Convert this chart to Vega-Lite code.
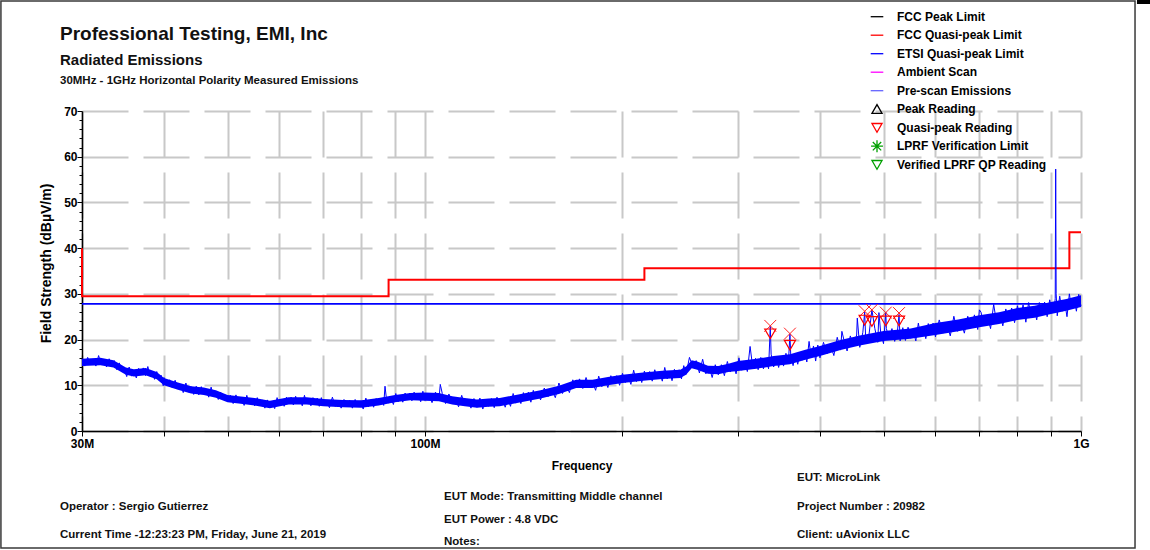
{
 "$schema": "https://vega.github.io/schema/vega-lite/v6.json",
 "width": 999,
 "height": 320,
 "autosize": {"type": "none"},
 "padding": {"left": 82, "top": 111, "right": 69, "bottom": 119},
 "background": "white",
 "config": {"view": {"stroke": null}, "font": "Liberation Sans"},
 "resolve": {"axis": {"y": "independent"}},
 "datasets": {
  "etsi": [{"f": 30, "v": 27.8}, {"f": 1000, "v": 27.8}],
  "fccqp": [
   {"i": 0, "f": 30, "v": 40}, {"i": 1, "f": 30, "v": 29.5}, {"i": 2, "f": 88, "v": 29.5}, {"i": 3, "f": 88, "v": 33.1},
   {"i": 4, "f": 216, "v": 33.1}, {"i": 5, "f": 216, "v": 35.6}, {"i": 6, "f": 960, "v": 35.6}, {"i": 7, "f": 960, "v": 43.5},
   {"i": 8, "f": 1000, "v": 43.5}
  ],
  "qp": [
   {"series": "Quasi-peak Reading", "f": 336, "v": 21.3}, {"series": "Quasi-peak Reading", "f": 360, "v": 18.8},
   {"series": "Quasi-peak Reading", "f": 468, "v": 24.3}, {"series": "Quasi-peak Reading", "f": 480, "v": 24.0},
   {"series": "Quasi-peak Reading", "f": 504, "v": 24.1}, {"series": "Quasi-peak Reading", "f": 528, "v": 24.1}
  ],
  "pk": [
   {"f": 336, "v": 23.0}, {"f": 360, "v": 21.3}, {"f": 468, "v": 26.2}, {"f": 480, "v": 26.5}, {"f": 504, "v": 25.9}, {"f": 528, "v": 25.8}
  ],
  "band": [
   {"f":30,"lo":14.2,"hi":15.8},{"f":32,"lo":14.4,"hi":16.0},{"f":33.5,"lo":13.9,"hi":15.5},{"f":35,"lo":12.3,"hi":13.9},{"f":36,"lo":11.9,"hi":13.5},
   {"f":37.5,"lo":12.2,"hi":13.8},{"f":39,"lo":11.3,"hi":12.9},{"f":40,"lo":10.0,"hi":11.6},{"f":42,"lo":9.0,"hi":10.6},{"f":44,"lo":8.2,"hi":9.8},
   {"f":46,"lo":7.9,"hi":9.5},{"f":48,"lo":7.3,"hi":8.9},{"f":50,"lo":6.3,"hi":7.9},{"f":52,"lo":6.0,"hi":7.6},{"f":55,"lo":5.6,"hi":7.2},
   {"f":58,"lo":5.0,"hi":6.6},{"f":62,"lo":5.8,"hi":7.4},{"f":66,"lo":5.8,"hi":7.4},{"f":70,"lo":5.4,"hi":7.0},{"f":75,"lo":5.2,"hi":6.8},
   {"f":80,"lo":5.1,"hi":6.7},{"f":85,"lo":5.6,"hi":7.2},{"f":90,"lo":6.3,"hi":7.9},{"f":95,"lo":6.7,"hi":8.3},{"f":100,"lo":6.6,"hi":8.4},
   {"f":105,"lo":6.5,"hi":8.3},{"f":110,"lo":5.8,"hi":7.6},{"f":115,"lo":5.4,"hi":7.2},{"f":120,"lo":5.1,"hi":6.9},{"f":125,"lo":5.3,"hi":7.1},
   {"f":130,"lo":5.4,"hi":7.2},{"f":140,"lo":6.3,"hi":8.1},{"f":150,"lo":7.1,"hi":8.9},{"f":160,"lo":8.1,"hi":9.9},{"f":170,"lo":9.4,"hi":11.2},
   {"f":180,"lo":9.4,"hi":11.2},{"f":190,"lo":10.0,"hi":11.8},{"f":200,"lo":10.5,"hi":12.3},{"f":215,"lo":11.0,"hi":12.8},{"f":230,"lo":11.4,"hi":13.2},
   {"f":245,"lo":11.6,"hi":13.4},{"f":250,"lo":12.3,"hi":14.1},{"f":255,"lo":13.7,"hi":15.5},{"f":260,"lo":13.4,"hi":15.2},{"f":270,"lo":12.5,"hi":14.3},
   {"f":280,"lo":12.4,"hi":14.2},{"f":290,"lo":12.9,"hi":14.7},{"f":300,"lo":13.1,"hi":15.3},{"f":320,"lo":13.6,"hi":15.8},{"f":340,"lo":14.2,"hi":16.4},
   {"f":360,"lo":14.6,"hi":16.8},{"f":380,"lo":15.6,"hi":17.8},{"f":400,"lo":16.4,"hi":18.6},{"f":430,"lo":17.7,"hi":19.9},{"f":460,"lo":18.7,"hi":20.9},
   {"f":500,"lo":19.7,"hi":21.9},{"f":550,"lo":20.2,"hi":22.4},{"f":600,"lo":21.0,"hi":23.6},{"f":650,"lo":21.8,"hi":24.4},{"f":700,"lo":22.7,"hi":25.3},
   {"f":750,"lo":23.4,"hi":26.0},{"f":800,"lo":24.3,"hi":26.9},{"f":850,"lo":24.8,"hi":27.4},{"f":900,"lo":25.6,"hi":28.2},{"f":950,"lo":26.3,"hi":28.9},
   {"f":1000,"lo":27.1,"hi":29.7}
  ],
  "trace": [
   {"f":30.0,"v":15.8},{"f":30.3,"v":14.2},{"f":30.6,"v":16.1},{"f":30.9,"v":14.6},{"f":31.2,"v":15.6},{"f":31.5,"v":14.2},{"f":31.8,"v":16.5},{"f":32.1,"v":14.5},{"f":32.4,"v":15.7},{"f":32.7,"v":14.0},
   {"f":33.0,"v":15.8},{"f":33.3,"v":14.3},{"f":33.6,"v":15.4},{"f":33.9,"v":13.4},{"f":34.2,"v":14.9},{"f":34.5,"v":12.9},{"f":34.8,"v":13.6},{"f":35.1,"v":11.9},{"f":35.4,"v":14.0},{"f":35.7,"v":12.0},
   {"f":36.0,"v":13.2},{"f":36.3,"v":11.6},{"f":36.6,"v":13.7},{"f":36.9,"v":12.4},{"f":37.2,"v":13.8},{"f":37.5,"v":12.1},{"f":37.8,"v":14.1},{"f":38.1,"v":12.0},{"f":38.4,"v":13.1},{"f":38.7,"v":11.3},
   {"f":39.0,"v":13.0},{"f":39.3,"v":11.3},{"f":39.6,"v":12.2},{"f":39.9,"v":9.9},
   {"f":40.0,"v":11.7},{"f":40.4,"v":10.1},{"f":40.8,"v":11.2},{"f":41.2,"v":9.4},{"f":41.6,"v":11.1},{"f":42.0,"v":9.3},{"f":42.4,"v":10.1},{"f":42.8,"v":8.4},{"f":43.2,"v":10.5},{"f":43.6,"v":8.5},
   {"f":44.0,"v":9.7},{"f":44.4,"v":8.0},{"f":44.8,"v":9.8},{"f":45.2,"v":7.9},{"f":45.6,"v":9.7},{"f":46.0,"v":8.1},{"f":46.4,"v":9.0},{"f":46.8,"v":7.4},{"f":47.2,"v":9.6},{"f":47.6,"v":7.6},
   {"f":48.0,"v":8.7},{"f":48.4,"v":6.9},{"f":48.8,"v":8.5},{"f":49.2,"v":6.8},{"f":49.6,"v":7.9},
   {"f":50.0,"v":6.5},{"f":50.5,"v":7.8},{"f":51.0,"v":6.0},{"f":51.5,"v":7.9},{"f":52.0,"v":6.2},{"f":52.5,"v":7.2},{"f":53.0,"v":5.6},{"f":53.5,"v":7.8},{"f":54.0,"v":5.9},{"f":54.5,"v":7.1},
   {"f":55.0,"v":5.5},{"f":55.5,"v":7.3},{"f":56.0,"v":5.7},{"f":56.5,"v":6.8},{"f":57.0,"v":5.0},{"f":57.5,"v":6.8},{"f":58.0,"v":5.2},{"f":58.5,"v":6.3},{"f":59.0,"v":4.9},{"f":59.5,"v":7.3},
   {"f":60.0,"v":5.5},{"f":60.5,"v":6.9},{"f":61.0,"v":5.4},{"f":61.5,"v":7.4},{"f":62.0,"v":6.1},{"f":62.5,"v":7.4},{"f":63.0,"v":5.7},{"f":63.5,"v":7.6},{"f":64.0,"v":6.0},{"f":64.5,"v":7.0},
   {"f":65.0,"v":5.5},{"f":65.5,"v":7.8},{"f":66.0,"v":5.9},{"f":66.5,"v":7.1},{"f":67.0,"v":5.5},{"f":67.5,"v":7.3},{"f":68.0,"v":5.9},{"f":68.5,"v":7.2},{"f":69.0,"v":5.4},{"f":69.5,"v":7.3},
   {"f":70.0,"v":5.7},{"f":70.75,"v":6.7},{"f":71.5,"v":5.1},{"f":72.25,"v":7.4},{"f":73.0,"v":5.4},{"f":73.75,"v":6.7},{"f":74.5,"v":5.0},{"f":75.25,"v":6.9},{"f":76.0,"v":5.5},{"f":76.75,"v":6.7},
   {"f":77.5,"v":5.0},{"f":78.25,"v":6.9},{"f":79.0,"v":5.3},{"f":79.75,"v":6.3},{"f":80.5,"v":4.8},{"f":81.25,"v":7.2},{"f":82.0,"v":5.3},{"f":82.75,"v":6.7},{"f":83.5,"v":5.2},{"f":84.25,"v":7.1},
   {"f":85.0,"v":5.8},{"f":85.75,"v":7.2},{"f":86.5,"v":5.6},{"f":86.9,"v":9.8},{"f":87.25,"v":7.6},{"f":88.0,"v":6.1},{"f":88.75,"v":7.2},{"f":89.5,"v":5.8},{"f":90.25,"v":8.2},{"f":91.0,"v":6.4},
   {"f":91.75,"v":7.8},{"f":92.5,"v":6.3},{"f":93.25,"v":8.3},{"f":94.0,"v":6.9},{"f":94.75,"v":8.3},{"f":95.5,"v":6.6},{"f":96.25,"v":8.5},{"f":97.0,"v":6.9},{"f":97.75,"v":7.9},{"f":98.5,"v":6.4},
   {"f":99.25,"v":8.7},
   {"f":100.0,"v":6.7},{"f":101.25,"v":8.2},{"f":102.5,"v":6.2},{"f":103.75,"v":8.5},{"f":105.0,"v":6.7},{"f":105.5,"v":10.2},{"f":106.25,"v":8.2},{"f":107.5,"v":6.0},{"f":108.75,"v":8.1},{"f":110.0,"v":6.1},
   {"f":111.25,"v":7.2},{"f":112.5,"v":5.3},{"f":113.75,"v":7.8},{"f":115.0,"v":5.5},{"f":116.25,"v":6.9},{"f":117.5,"v":5.0},{"f":118.75,"v":7.1},{"f":120.0,"v":5.2},{"f":121.25,"v":7.2},{"f":122.5,"v":4.8},
   {"f":123.75,"v":7.0},{"f":125.0,"v":5.4},{"f":126.25,"v":7.1},{"f":127.5,"v":5.1},{"f":128.75,"v":7.4},{"f":130.0,"v":5.5},{"f":131.25,"v":7.1},{"f":132.5,"v":5.2},{"f":133.75,"v":7.1},{"f":135.0,"v":5.4},
   {"f":136.25,"v":8.2},{"f":137.5,"v":6.1},{"f":138.75,"v":7.8},{"f":140.0,"v":6.0},{"f":141.25,"v":8.4},{"f":142.5,"v":6.8},{"f":143.75,"v":8.5},{"f":145.0,"v":6.3},{"f":146.25,"v":8.9},{"f":147.5,"v":7.0},
   {"f":148.75,"v":8.6},
   {"f":150,"v":6.8},{"f":152,"v":9.4},{"f":154,"v":7.5},{"f":156,"v":9.0},{"f":158,"v":7.3},{"f":160,"v":10.5},{"f":162,"v":8.2},{"f":164,"v":10.2},{"f":166,"v":8.4},{"f":168,"v":11.2},
   {"f":170,"v":9.5},{"f":172,"v":11.4},{"f":174,"v":9.3},{"f":176,"v":11.7},{"f":178,"v":9.5},{"f":180,"v":10.8},{"f":182,"v":8.9},{"f":184,"v":12.0},{"f":186,"v":9.7},{"f":188,"v":11.5},
   {"f":190,"v":9.5},{"f":192,"v":12.1},{"f":194,"v":10.3},{"f":196,"v":12.1},{"f":198,"v":10.0},{"f":200,"v":12.6},{"f":202,"v":10.6},{"f":204,"v":12.0},{"f":206,"v":10.2},{"f":208,"v":13.3},
   {"f":210,"v":10.8},{"f":212,"v":12.6},{"f":214,"v":10.6},{"f":216,"v":13.1},{"f":218,"v":11.3},{"f":220,"v":13.0},{"f":222,"v":10.9},{"f":224,"v":13.4},{"f":226,"v":11.4},{"f":228,"v":12.7},
   {"f":230,"v":10.9},{"f":232,"v":13.9},{"f":234,"v":11.4},{"f":236,"v":13.1},{"f":238,"v":11.0},{"f":240,"v":13.5},{"f":242,"v":11.6},{"f":244,"v":13.4},{"f":246,"v":11.4},{"f":248,"v":14.3},
   {"f":250,"v":12.4},{"f":253,"v":16.1},{"f":256,"v":14.1},{"f":259,"v":15.4},{"f":262,"v":12.7},{"f":265,"v":15.7},{"f":268,"v":12.5},{"f":271,"v":14.2},{"f":274,"v":11.7},{"f":277,"v":14.5},
   {"f":280,"v":12.3},{"f":283,"v":14.5},{"f":286,"v":12.1},{"f":289,"v":15.2},{"f":292,"v":12.9},{"f":295,"v":14.6},{"f":298,"v":12.5},{"f":301,"v":16.0},{"f":304,"v":13.3},{"f":307,"v":15.3},
   {"f":310,"v":13.0},{"f":313,"v":18.5},{"f":316,"v":13.8},{"f":319,"v":15.9},{"f":322,"v":13.4},{"f":325,"v":16.1},{"f":328,"v":13.6},{"f":331,"v":15.7},{"f":334,"v":13.6},{"f":336,"v":22.9},
   {"f":337,"v":16.8},{"f":340,"v":14.0},{"f":343,"v":16.3},{"f":346,"v":13.9},{"f":349,"v":16.4},{"f":352,"v":14.2},{"f":355,"v":17.0},{"f":358,"v":14.7},{"f":360,"v":21.2},{"f":361,"v":16.6},
   {"f":364,"v":14.3},{"f":367,"v":17.0},{"f":370,"v":14.6},{"f":373,"v":17.1},{"f":376,"v":15.5},{"f":379,"v":17.2},{"f":382,"v":15.1},{"f":385,"v":19.6},{"f":388,"v":16.0},{"f":391,"v":18.6},
   {"f":394,"v":15.3},{"f":397,"v":18.8},
   {"f":400,"v":16.0},{"f":405,"v":19.4},{"f":410,"v":16.9},{"f":415,"v":18.8},{"f":420,"v":16.5},{"f":425,"v":20.5},{"f":430,"v":17.7},{"f":432,"v":21.8},{"f":435,"v":20.0},{"f":440,"v":17.5},
   {"f":445,"v":20.8},{"f":450,"v":18.6},{"f":455,"v":21.0},{"f":456,"v":24.7},{"f":460,"v":18.3},{"f":465,"v":21.6},{"f":468,"v":26.0},{"f":470,"v":19.1},{"f":475,"v":20.9},{"f":480,"v":26.5},
   {"f":485,"v":22.4},{"f":490,"v":19.4},{"f":492,"v":25.9},{"f":495,"v":21.6},{"f":500,"v":19.1},{"f":504,"v":26.0},{"f":505,"v":22.4},{"f":510,"v":20.1},{"f":515,"v":22.4},{"f":520,"v":19.6},
   {"f":525,"v":21.8},{"f":528,"v":25.5},{"f":530,"v":19.7},{"f":535,"v":22.6},{"f":540,"v":19.8},{"f":545,"v":22.7},{"f":550,"v":20.3},{"f":555,"v":21.9},{"f":560,"v":19.7},{"f":565,"v":23.6},
   {"f":570,"v":20.6},{"f":575,"v":22.8},{"f":580,"v":20.2},{"f":585,"v":23.5},{"f":590,"v":21.2},{"f":595,"v":23.6},
   {"f":600,"v":20.6},{"f":608,"v":24.3},{"f":616,"v":21.4},{"f":624,"v":23.5},{"f":632,"v":20.8},{"f":640,"v":25.1},{"f":648,"v":21.8},{"f":656,"v":24.2},{"f":664,"v":21.4},{"f":672,"v":25.1},
   {"f":680,"v":22.6},{"f":688,"v":25.4},{"f":696,"v":22.2},{"f":700,"v":26.5},{"f":704,"v":26.0},{"f":712,"v":23.1},{"f":720,"v":25.1},{"f":728,"v":22.4},{"f":736,"v":27.7},{"f":744,"v":23.4},
   {"f":752,"v":25.8},{"f":760,"v":23.0},{"f":768,"v":26.7},{"f":776,"v":24.1},{"f":784,"v":26.9},{"f":792,"v":23.7},{"f":800,"v":27.4},{"f":808,"v":24.5},{"f":816,"v":27.6},{"f":824,"v":23.8},
   {"f":832,"v":28.1},{"f":840,"v":24.8},{"f":848,"v":27.2},{"f":856,"v":24.3},{"f":864,"v":28.1},{"f":872,"v":25.5},{"f":880,"v":28.2},{"f":888,"v":25.0},{"f":896,"v":28.7},{"f":904,"v":25.9},
   {"f":912,"v":27.9},{"f":913.5,"v":29.0},{"f":915,"v":57.3},{"f":916.5,"v":30.0},{"f":920,"v":25.2},{"f":928,"v":29.5},{"f":936,"v":26.2},{"f":944,"v":28.3},{"f":952,"v":25.0},{"f":960,"v":30.0},
   {"f":968,"v":26.7},{"f":976,"v":29.1},{"f":984,"v":26.2},{"f":992,"v":29.9},{"f":1000,"v":27.3}
  ]
 },
 "layer": [
  {
   "data": {"values": [{}]},
   "mark": {"type": "rect", "filled": false, "stroke": "#3a3a3a", "strokeWidth": 1.5, "clip": false},
   "encoding": {
    "x": {"datum": 22.57, "type": "quantitative", "scale": {"type": "log", "domain": [30, 1000], "nice": false}},
    "x2": {"datum": 1208.8},
    "y": {"datum": 94.06, "type": "quantitative", "scale": {"domain": [0, 70], "nice": false, "zero": false}, "axis": null},
    "y2": {"datum": -25.6}
   }
  },
  {
   "data": {"values": [{}]},
   "mark": {"type": "rect", "fill": "black", "clip": false},
   "encoding": {
    "x": {"datum": 1217, "type": "quantitative", "scale": {"type": "log", "domain": [30, 1000], "nice": false}},
    "x2": {"datum": 1274},
    "y": {"datum": 94.3, "type": "quantitative", "scale": {"domain": [0, 70], "nice": false, "zero": false}, "axis": null},
    "y2": {"datum": 93.4}
   }
  },
  {
   "data": {"name": "etsi"},
   "mark": {"type": "line", "color": "#0000ff", "strokeWidth": 1.6},
   "encoding": {
    "x": {"field": "f", "type": "quantitative", "scale": {"type": "log", "domain": [30, 1000], "nice": false}},
    "y": {
     "field": "v", "type": "quantitative", "scale": {"domain": [0, 70], "nice": false, "zero": false},
     "axis": {"orient": "left", "values": [2, 4, 6, 8, 12, 14, 16, 18, 22, 24, 26, 28, 32, 34, 36, 38, 42, 44, 46, 48, 52, 54, 56, 58, 62, 64, 66, 68], "labels": false, "grid": false, "domain": false, "title": null, "tickSize": 3, "tickColor": "#000000", "tickWidth": 1}
    }
   }
  },
  {
   "data": {"name": "fccqp"},
   "mark": {"type": "line", "color": "#ff0000", "strokeWidth": 2},
   "encoding": {
    "x": {"field": "f", "type": "quantitative", "scale": {"type": "log", "domain": [30, 1000], "nice": false}},
    "y": {"field": "v", "type": "quantitative", "scale": {"domain": [0, 70], "nice": false, "zero": false}, "axis": null},
    "order": {"field": "i", "type": "quantitative"}
   }
  },
  {
   "data": {"name": "band"},
   "mark": {"type": "area", "color": "#0000ff", "opacity": 1},
   "encoding": {
    "x": {"field": "f", "type": "quantitative", "scale": {"type": "log", "domain": [30, 1000], "nice": false}},
    "y": {"field": "lo", "type": "quantitative", "scale": {"domain": [0, 70], "nice": false, "zero": false}, "axis": null},
    "y2": {"field": "hi"}
   }
  },
  {
   "data": {"name": "trace"},
   "mark": {"type": "line", "color": "#0000ff", "strokeWidth": 1},
   "encoding": {
    "x": {
     "field": "f", "type": "quantitative",
     "scale": {"type": "log", "domain": [30, 1000], "nice": false},
     "axis": {
      "values": [30, 40, 50, 60, 70, 80, 90, 100, 200, 300, 400, 500, 600, 700, 800, 900, 1000],
      "labelExpr": "datum.value == 30 ? '30M' : datum.value == 100 ? '100M' : datum.value == 1000 ? '1G' : ''",
      "grid": true, "gridColor": "#c8c8c8", "gridWidth": 2, "gridDash": [46, 15],
      "domainColor": "#000000", "domainWidth": 1.5, "tickColor": "#000000", "tickSize": 5, "tickWidth": 1,
      "labelFont": "Liberation Sans", "labelFontSize": 12, "labelFontWeight": "bold", "labelColor": "#000000", "labelPadding": 2,
      "labelFlush": false, "labelOverlap": false,
      "title": "Frequency", "titleFont": "Liberation Sans", "titleFontSize": 12, "titleFontWeight": "bold", "titleColor": "#000000", "titlePadding": 11
     }
    },
    "y": {
     "field": "v", "type": "quantitative",
     "scale": {"domain": [0, 70], "nice": false, "zero": false},
     "axis": {
      "orient": "left",
      "values": [0, 10, 20, 30, 40, 50, 60, 70],
      "grid": true, "gridWidth": 2, "gridDash": [46, 15], "gridColor": "#c8c8c8",
      "domainColor": "#000000", "domainWidth": 1.5, "tickColor": "#000000", "tickWidth": 1, "tickSize": 5,
      "labelFont": "Liberation Sans", "labelFontSize": 12, "labelFontWeight": "bold", "labelColor": "#000000", "labelPadding": 0,
      "labelFlush": false, "labelOverlap": false,
      "title": "Field Strength (dBµV/m)", "titleFont": "Liberation Sans", "titleFontSize": 14, "titleFontWeight": "bold", "titleColor": "#000000", "titlePadding": 10, "titleY": 152
     }
    }
   }
  },
  {
   "data": {"name": "pk"},
   "mark": {"type": "point", "shape": "M-1,-1L1,1M-1,1L1,-1", "filled": false, "color": "#ff2020", "size": 140, "strokeWidth": 1, "opacity": 1},
   "encoding": {
    "x": {"field": "f", "type": "quantitative", "scale": {"type": "log", "domain": [30, 1000], "nice": false}},
    "y": {"field": "v", "type": "quantitative", "scale": {"domain": [0, 70], "nice": false, "zero": false}, "axis": null}
   }
  },
  {
   "data": {"name": "qp"},
   "mark": {"type": "point", "filled": false, "size": 240, "strokeWidth": 1.2, "opacity": 1},
   "encoding": {
    "x": {"field": "f", "type": "quantitative", "scale": {"type": "log", "domain": [30, 1000], "nice": false}},
    "y": {"field": "v", "type": "quantitative", "scale": {"domain": [0, 70], "nice": false, "zero": false}, "axis": null},
    "color": {
     "field": "series", "type": "nominal",
     "scale": {
      "domain": ["FCC Peak Limit", "FCC Quasi-peak Limit", "ETSI Quasi-peak Limit", "Ambient Scan", "Pre-scan Emissions", "Peak Reading", "Quasi-peak Reading", "LPRF Verification Limit", "Verified LPRF QP Reading"],
      "range": ["#000000", "#ff0000", "#0000ff", "#ff00ff", "#6464ff", "#000000", "#ff0000", "#00a000", "#00a000"]
     },
     "legend": {
      "title": null, "orient": "none", "legendX": 787, "legendY": -102.3, "padding": 0, "gridAlign": "all",
      "symbolSize": 196, "symbolStrokeWidth": 1.3, "labelFont": "Liberation Sans", "labelFontSize": 12, "labelFontWeight": "bold",
      "labelColor": "#000000", "labelOffset": 12, "rowPadding": 0.5, "labelLimit": 300
     }
    },
    "shape": {
     "field": "series", "type": "nominal",
     "scale": {
      "domain": ["FCC Peak Limit", "FCC Quasi-peak Limit", "ETSI Quasi-peak Limit", "Ambient Scan", "Pre-scan Emissions", "Peak Reading", "Quasi-peak Reading", "LPRF Verification Limit", "Verified LPRF QP Reading"],
      "range": ["M-0.9,0L0.9,0", "M-0.9,0L0.9,0", "M-0.9,0L0.9,0", "M-0.9,0L0.9,0", "M-0.9,0L0.9,0", "M0,-0.65L0.72,0.6L-0.72,0.6Z", "M-0.72,-0.6L0.72,-0.6L0,0.65Z", "M-0.85,0L0.85,0M0,-0.85L0,0.85M-0.6,-0.6L0.6,0.6M-0.6,0.6L0.6,-0.6", "M-0.72,-0.6L0.72,-0.6L0,0.65Z"]
     },
     "legend": {
      "title": null, "orient": "none", "legendX": 787, "legendY": -102.3, "padding": 0, "gridAlign": "all",
      "symbolSize": 196, "symbolStrokeWidth": 1.3, "labelFont": "Liberation Sans", "labelFontSize": 12, "labelFontWeight": "bold",
      "labelColor": "#000000", "labelOffset": 12, "rowPadding": 0.5, "labelLimit": 300
     }
    }
   }
  },
  {
   "data": {"values": [{}]},
   "layer": [
    {"mark": {"type": "text", "text": "Professional Testing, EMI, Inc", "font": "Liberation Sans", "fontSize": 19, "fontWeight": "bold", "align": "left", "baseline": "middle", "color": "#111111", "clip": false},
     "encoding": {"x": {"datum": 27.77, "type": "quantitative", "scale": {"type": "log", "domain": [30, 1000], "nice": false}}, "y": {"datum": 86.84, "type": "quantitative", "scale": {"domain": [0, 70], "nice": false, "zero": false}, "axis": null}}},
    {"mark": {"type": "text", "text": "Radiated Emissions", "font": "Liberation Sans", "fontSize": 15, "fontWeight": "bold", "align": "left", "baseline": "middle", "color": "#111111", "clip": false},
     "encoding": {"x": {"datum": 27.77, "type": "quantitative", "scale": {"type": "log", "domain": [30, 1000], "nice": false}}, "y": {"datum": 81.16, "type": "quantitative", "scale": {"domain": [0, 70], "nice": false, "zero": false}, "axis": null}}},
    {"mark": {"type": "text", "text": "30MHz - 1GHz Horizontal Polarity Measured Emissions", "font": "Liberation Sans", "fontSize": 11.5, "fontWeight": "bold", "align": "left", "baseline": "middle", "color": "#111111", "clip": false},
     "encoding": {"x": {"datum": 27.77, "type": "quantitative", "scale": {"type": "log", "domain": [30, 1000], "nice": false}}, "y": {"datum": 76.56, "type": "quantitative", "scale": {"domain": [0, 70], "nice": false, "zero": false}, "axis": null}}},
    {"mark": {"type": "text", "text": "Operator : Sergio Gutierrez", "font": "Liberation Sans", "fontSize": 11.5, "fontWeight": "bold", "align": "left", "baseline": "middle", "color": "#111111", "clip": false},
     "encoding": {"x": {"datum": 27.77, "type": "quantitative", "scale": {"type": "log", "domain": [30, 1000], "nice": false}}, "y": {"datum": -16.62, "type": "quantitative", "scale": {"domain": [0, 70], "nice": false, "zero": false}, "axis": null}}},
    {"mark": {"type": "text", "text": "Current Time -12:23:23 PM, Friday, June 21, 2019", "font": "Liberation Sans", "fontSize": 11.5, "fontWeight": "bold", "align": "left", "baseline": "middle", "color": "#111111", "clip": false},
     "encoding": {"x": {"datum": 27.77, "type": "quantitative", "scale": {"type": "log", "domain": [30, 1000], "nice": false}}, "y": {"datum": -22.75, "type": "quantitative", "scale": {"domain": [0, 70], "nice": false, "zero": false}, "axis": null}}},
    {"mark": {"type": "text", "text": "EUT Mode: Transmitting Middle channel", "font": "Liberation Sans", "fontSize": 11.5, "fontWeight": "bold", "align": "left", "baseline": "middle", "color": "#111111", "clip": false},
     "encoding": {"x": {"datum": 106.9, "type": "quantitative", "scale": {"type": "log", "domain": [30, 1000], "nice": false}}, "y": {"datum": -14.44, "type": "quantitative", "scale": {"domain": [0, 70], "nice": false, "zero": false}, "axis": null}}},
    {"mark": {"type": "text", "text": "EUT Power : 4.8 VDC", "font": "Liberation Sans", "fontSize": 11.5, "fontWeight": "bold", "align": "left", "baseline": "middle", "color": "#111111", "clip": false},
     "encoding": {"x": {"datum": 106.9, "type": "quantitative", "scale": {"type": "log", "domain": [30, 1000], "nice": false}}, "y": {"datum": -19.47, "type": "quantitative", "scale": {"domain": [0, 70], "nice": false, "zero": false}, "axis": null}}},
    {"mark": {"type": "text", "text": "Notes:", "font": "Liberation Sans", "fontSize": 11.5, "fontWeight": "bold", "align": "left", "baseline": "middle", "color": "#111111", "clip": false},
     "encoding": {"x": {"datum": 106.9, "type": "quantitative", "scale": {"type": "log", "domain": [30, 1000], "nice": false}}, "y": {"datum": -24.28, "type": "quantitative", "scale": {"domain": [0, 70], "nice": false, "zero": false}, "axis": null}}},
    {"mark": {"type": "text", "text": "EUT: MicroLink", "font": "Liberation Sans", "fontSize": 11.5, "fontWeight": "bold", "align": "left", "baseline": "middle", "color": "#111111", "clip": false},
     "encoding": {"x": {"datum": 369.1, "type": "quantitative", "scale": {"type": "log", "domain": [30, 1000], "nice": false}}, "y": {"datum": -10.28, "type": "quantitative", "scale": {"domain": [0, 70], "nice": false, "zero": false}, "axis": null}}},
    {"mark": {"type": "text", "text": "Project Number : 20982", "font": "Liberation Sans", "fontSize": 11.5, "fontWeight": "bold", "align": "left", "baseline": "middle", "color": "#111111", "clip": false},
     "encoding": {"x": {"datum": 369.1, "type": "quantitative", "scale": {"type": "log", "domain": [30, 1000], "nice": false}}, "y": {"datum": -16.62, "type": "quantitative", "scale": {"domain": [0, 70], "nice": false, "zero": false}, "axis": null}}},
    {"mark": {"type": "text", "text": "Client: uAvionix LLC", "font": "Liberation Sans", "fontSize": 11.5, "fontWeight": "bold", "align": "left", "baseline": "middle", "color": "#111111", "clip": false},
     "encoding": {"x": {"datum": 369.1, "type": "quantitative", "scale": {"type": "log", "domain": [30, 1000], "nice": false}}, "y": {"datum": -22.75, "type": "quantitative", "scale": {"domain": [0, 70], "nice": false, "zero": false}, "axis": null}}}
   ]
  }
 ]
}
